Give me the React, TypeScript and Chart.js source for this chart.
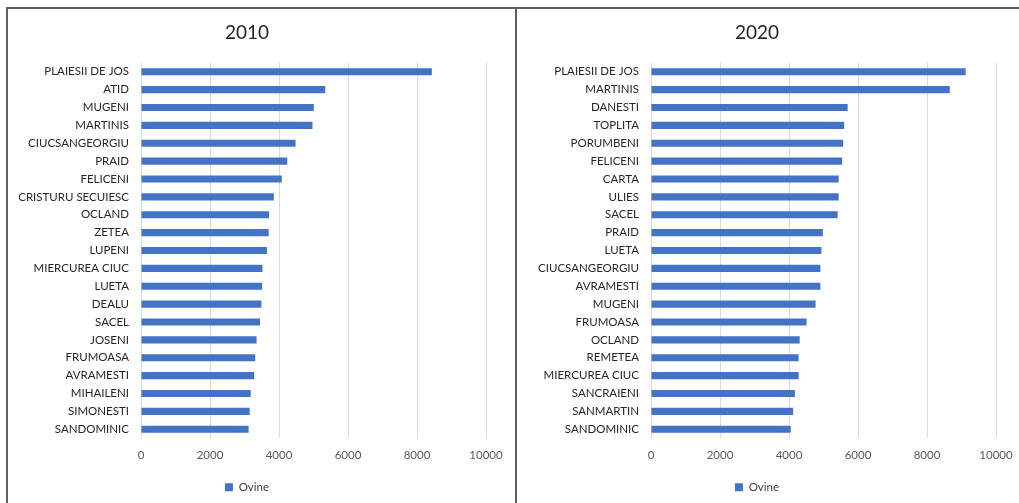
import React, { useEffect, useRef } from "react";
import { Chart, registerables } from "chart.js";

Chart.register(...registerables);

const SERIES_NAME = "Ovine";

const labels2010 = [
  "PLAIESII DE JOS", "ATID", "MUGENI", "MARTINIS", "CIUCSANGEORGIU", "PRAID", "FELICENI",
  "CRISTURU SECUIESC", "OCLAND", "ZETEA", "LUPENI", "MIERCUREA CIUC", "LUETA", "DEALU",
  "SACEL", "JOSENI", "FRUMOASA", "AVRAMESTI", "MIHAILENI", "SIMONESTI", "SANDOMINIC",
];
const values2010 = [
  8430, 5340, 5010, 4970, 4480, 4240, 4080, 3850, 3710, 3700, 3650, 3520, 3510, 3490,
  3450, 3350, 3310, 3280, 3180, 3150, 3120,
];

const labels2020 = [
  "PLAIESII DE JOS", "MARTINIS", "DANESTI", "TOPLITA", "PORUMBENI", "FELICENI", "CARTA",
  "ULIES", "SACEL", "PRAID", "LUETA", "CIUCSANGEORGIU", "AVRAMESTI", "MUGENI", "FRUMOASA",
  "OCLAND", "REMETEA", "MIERCUREA CIUC", "SANCRAIENI", "SANMARTIN", "SANDOMINIC",
];
const values2020 = [
  9120, 8660, 5700, 5600, 5570, 5540, 5440, 5440, 5410, 4980, 4940, 4910, 4910, 4770,
  4510, 4310, 4280, 4280, 4170, 4120, 4050,
];

const xTicks = [0, 2000, 4000, 6000, 8000, 10000];

const FONT = "Lato, 'Open Sans', sans-serif";
const BAR = "#4472C4";

function BarPanel(props: {
  title: string;
  labels: string[];
  values: number[];
  left: number;
  width: number;
  rightPad: number;
}) {
  const ref = useRef<HTMLCanvasElement | null>(null);
  useEffect(() => {
    if (!ref.current) return;
    const chart = new Chart(ref.current, {
      type: "bar",
      data: {
        labels: props.labels,
        datasets: [
          {
            label: SERIES_NAME,
            data: props.values,
            backgroundColor: BAR,
            borderWidth: 0,
            categoryPercentage: 1,
            barPercentage: 0.4,
          },
        ],
      },
      options: {
        indexAxis: "y",
        animation: false,
        responsive: false,
        maintainAspectRatio: false,
        layout: { padding: { left: 0, right: props.rightPad, top: 0, bottom: 0 } },
        plugins: {
          title: {
            display: true,
            text: props.title,
            color: "#262626",
            font: { family: FONT, size: 19, weight: "normal" },
            padding: { top: 12, bottom: 19 },
          },
          legend: {
            display: true,
            position: "bottom",
            labels: {
              color: "#404040",
              font: { family: FONT, size: 11.5 },
              boxWidth: 8,
              boxHeight: 8,
              padding: 9.5,
            },
          },
          tooltip: { enabled: false },
        },
        scales: {
          x: {
            min: 0,
            max: 10000,
            afterBuildTicks: (scale: any) => {
              scale.ticks = xTicks.map((v) => ({ value: v }));
            },
            grid: { color: "#d9d9d9", lineWidth: 1, drawTicks: false },
            border: { display: false },
            ticks: {
              color: "#595959",
              font: { family: FONT, size: 11.5 },
              padding: 10,
              callback: (v: any) => String(v),
            },
          },
          y: {
            grid: { display: false, drawTicks: false },
            border: { display: false },
            afterFit: (scale: any) => {
              scale.width = 133;
            },
            ticks: {
              color: "#262626",
              font: { family: FONT, size: 11.5 },
              padding: 12,
              autoSkip: false,
            },
          },
        },
      },
    });
    return () => chart.destroy();
  }, []);
  return (
    <canvas
      ref={ref}
      width={props.width}
      height={494}
      style={{ position: "absolute", left: props.left, top: 9, width: props.width, height: 494 }}
    />
  );
}

export default function App() {
  return (
    <div
      style={{
        position: "fixed",
        left: 0,
        top: 0,
        width: 1019,
        height: 503,
        overflow: "hidden",
        background: "#fff",
      }}
    >
      <div
        style={{
          position: "absolute",
          left: 6,
          top: 7,
          width: 1100,
          height: 600,
          borderTop: "2px solid #5f5f5f",
          borderLeft: "2px solid #5f5f5f",
        }}
      />
      <div
        style={{
          position: "absolute",
          left: 515,
          top: 7,
          width: 2,
          height: 600,
          background: "#5f5f5f",
        }}
      />
      <BarPanel title="2010" labels={labels2010} values={values2010} left={8} width={507} rightPad={29} />
      <BarPanel title="2020" labels={labels2020} values={values2020} left={518} width={509} rightPad={31} />
    </div>
  );
}
